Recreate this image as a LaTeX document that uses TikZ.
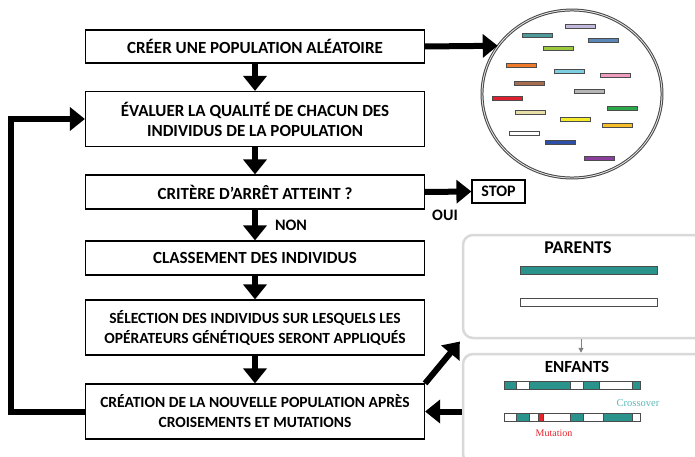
\documentclass[tikz,border=0pt]{standalone}
\usepackage{fontspec}
\setmainfont{Carlito}
\newfontfamily\labelserif{Liberation Serif}
\usetikzlibrary{arrows.meta,shapes.geometric}

\definecolor{barlavender}{HTML}{C3B9DE}
\definecolor{barteal}{HTML}{4E9A9A}
\definecolor{barsteel}{HTML}{5A87B8}
\definecolor{barlime}{HTML}{9DC93D}
\definecolor{barorange}{HTML}{EE7A2A}
\definecolor{barsky}{HTML}{7CCFE0}
\definecolor{barpink}{HTML}{EE9DBE}
\definecolor{barbrown}{HTML}{A86C4E}
\definecolor{bargray}{HTML}{B5B5B5}
\definecolor{barred}{HTML}{E02030}
\definecolor{bargreen}{HTML}{2BA84A}
\definecolor{barbeige}{HTML}{E8DFA8}
\definecolor{baryellow}{HTML}{F5EB2A}
\definecolor{bargold}{HTML}{F5BE2A}
\definecolor{barblue}{HTML}{2E4FA8}
\definecolor{barpurple}{HTML}{8B3E9B}
\definecolor{genteal}{HTML}{2A948C}
\definecolor{crosscol}{HTML}{5DB8B8}
\definecolor{mutcol}{HTML}{E8232B}

\tikzset{
  stepbox/.style={draw, line width=1.2pt, fill=white, minimum width=339pt, align=center,
    inner sep=0pt, font=\bfseries\fontsize{17}{20}\selectfont},
  twoline/.style={font=\bfseries\fontsize{15.5}{20}\selectfont},
  flow/.style={line width=6pt, line join=miter, -{Triangle[length=15pt,width=23pt]}},
  tag/.style={font=\bfseries\fontsize{16}{18}\selectfont},
  panel/.style={draw=gray!30, line width=2.5pt, rounded corners=10pt, fill=white},
  chromo/.style={draw=gray!60!black, line width=0.6pt},
}

\begin{document}
\begin{tikzpicture}[x=1pt,y=-1pt]
  \clip (0,0) rectangle (695,457);

  % flow chart
  \node[stepbox, minimum height=33pt] (creer) at (255,46.5) {CRÉER UNE POPULATION ALÉATOIRE};
  \node[stepbox, minimum height=55pt] (evaluer) at (255,119) {ÉVALUER LA QUALITÉ DE CHACUN DES\\INDIVIDUS DE LA POPULATION};
  \node[stepbox, minimum height=34pt] (critere) at (255,192) {CRITÈRE D’ARRÊT ATTEINT ?};
  \node[stepbox, minimum height=34pt] (classement) at (255,258) {CLASSEMENT DES INDIVIDUS};
  \node[stepbox, twoline, minimum height=55pt] (selection) at (255,327.5) {SÉLECTION DES INDIVIDUS SUR LESQUELS LES\\OPÉRATEURS GÉNÉTIQUES SERONT APPLIQUÉS};
  \node[stepbox, twoline, minimum height=55pt] (creation) at (255,411.5) {CRÉATION DE LA NOUVELLE POPULATION APRÈS\\CROISEMENTS ET MUTATIONS};
  \node[stepbox, minimum width=53pt, minimum height=23pt, tag] (stop) at (498.5,191.5) {STOP};
  \node[tag] (non) at (291,225) {NON};
  \node[tag] (oui) at (445,215) {OUI};
  \coordinate (loop) at (11,0);

  % population
  \node[ellipse, draw=gray!55!black, double=gray!25, double distance=0.9pt, line width=1pt,
    minimum width=180pt, minimum height=168pt, inner sep=0pt] (pop) at (572,94) {};
  \foreach \bx/\by/\bc in {565/24/barlavender, 522/33/barteal, 588/38/barsteel, 543/46/barlime,
      506/63/barorange, 554/69/barsky, 600/73/barpink, 514/81/barbrown, 574/89/bargray,
      492/96/barred, 607/106/bargreen, 515/110/barbeige, 560/117/baryellow, 602/123/bargold,
      509/131/white, 545/140/barblue, 584/156/barpurple}
    \draw[chromo, fill=\bc] (\bx,\by) rectangle ++(30,4.5);

  % parents / enfants
  \node[panel, minimum width=250pt, minimum height=103pt] (parents) at (588,286.5) {};
  \node[panel, minimum width=250pt, minimum height=110pt] (enfants) at (588,409) {};
  \node[tag, font=\bfseries\fontsize{18}{19}\selectfont] (ptitle) at (578,248) {PARENTS};
  \node[tag, font=\bfseries\fontsize{17}{18}\selectfont] (etitle) at (577,367) {ENFANTS};
  \draw[chromo, fill=genteal] (520,266) rectangle (657,274);
  \draw[chromo, fill=white] (520,298) rectangle (657,306.5);
  \foreach \sa/\sb/\sc in {504.3/516.7/genteal, 516.7/529/white, 529/570.7/genteal,
      570.7/583.3/white, 583.3/599.3/genteal, 599.3/632.3/white, 632.3/640.7/genteal}
    \draw[chromo, fill=\sc] (\sa,381) rectangle (\sb,389);
  \foreach \sa/\sb/\sc in {504.3/516.7/white, 516.7/529/genteal, 529/538.3/white,
      538.3/543/mutcol, 543/570.7/white, 570.7/583.3/genteal, 583.3/603.3/white,
      603.3/632.3/genteal, 632.3/640.7/white}
    \draw[chromo, fill=\sc] (\sa,413) rectangle (\sb,421.5);
  \node[text=crosscol, font=\labelserif\fontsize{10.5}{12}\selectfont] (cross) at (638,403) {Crossover};
  \node[text=mutcol, font=\labelserif\fontsize{10}{11}\selectfont] (mut) at (554,433) {Mutation};

  % connectors
  \draw[flow] (creer.south) -- (evaluer.north);
  \draw[flow] (evaluer.south) -- (critere.north);
  \draw[flow] (critere.south) -- (classement.north);
  \draw[flow] (classement.south) -- (selection.north);
  \draw[flow] (selection.south) -- (creation.north);
  \draw[flow] (creer.east) -- (pop.147);
  \draw[flow] (critere.east) -- (stop.west);
  \draw[flow] (creation.west) -- (creation.west -| loop) |- (evaluer.west);
  \draw[flow, shorten >=3pt] (creation.north east) -- (parents.south west);
  \draw[flow] (enfants.west |- creation.east) -- (creation.east);
  \draw[gray, line width=1pt, -{Triangle[length=5pt,width=5pt]}]
    ([xshift=-7pt]parents.south) -- ([xshift=-7pt]enfants.north);
\end{tikzpicture}
\end{document}
